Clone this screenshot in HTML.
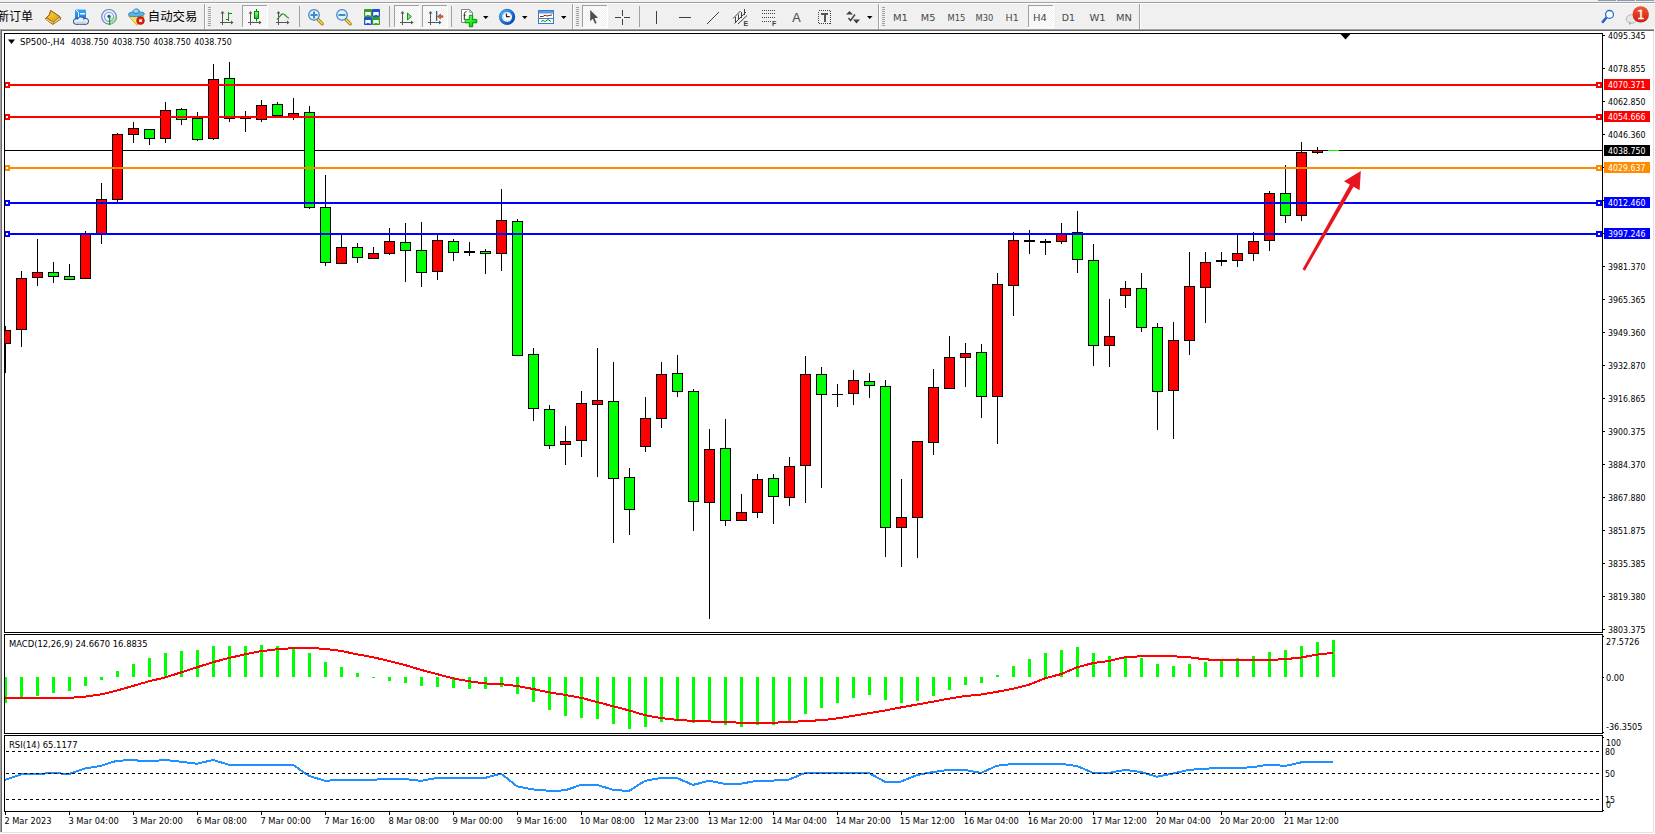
<!DOCTYPE html>
<html><head><meta charset="utf-8"><title>MT4 SP500 H4</title>
<style>
html,body{margin:0;padding:0;background:#f0f0f0;}
body{width:1655px;height:834px;overflow:hidden;position:relative;}
svg{display:block;position:absolute;left:0;top:0;}
</style></head><body>
<svg width="1655" height="834" viewBox="0 0 1655 834">
<g shape-rendering="crispEdges">
<rect x="0" y="0" width="1655" height="29" fill="#f0f0f0"/>
<rect x="0" y="2" width="1655" height="1" fill="#a0a0a0"/>
<rect x="0" y="3" width="1655" height="1" fill="#ffffff"/>
<rect x="0" y="28" width="1655" height="1" fill="#f5f5f5"/>
<rect x="1598" y="0" width="18" height="1" fill="#8a9bb0"/>
<rect x="1617" y="0" width="18" height="1" fill="#8a9bb0"/>
<rect x="1636" y="0" width="18" height="1" fill="#8a9bb0"/>
<rect x="204" y="4" width="1" height="25" fill="#a0a0a0"/>
<rect x="205" y="4" width="1" height="25" fill="#ffffff"/>
<rect x="572" y="4" width="1" height="25" fill="#a0a0a0"/>
<rect x="573" y="4" width="1" height="25" fill="#ffffff"/>
<rect x="878" y="4" width="1" height="25" fill="#a0a0a0"/>
<rect x="879" y="4" width="1" height="25" fill="#ffffff"/>
<rect x="1139" y="4" width="1" height="25" fill="#a0a0a0"/>
<rect x="1140" y="4" width="1" height="25" fill="#ffffff"/>
<rect x="299" y="6" width="1" height="21" fill="#a0a0a0"/>
<rect x="389" y="6" width="1" height="21" fill="#a0a0a0"/>
<rect x="451" y="6" width="1" height="21" fill="#a0a0a0"/>
<rect x="639" y="6" width="1" height="21" fill="#a0a0a0"/>
<rect x="208" y="7" width="3" height="1" fill="#a0a0a0"/>
<rect x="208" y="9" width="3" height="1" fill="#a0a0a0"/>
<rect x="208" y="11" width="3" height="1" fill="#a0a0a0"/>
<rect x="208" y="13" width="3" height="1" fill="#a0a0a0"/>
<rect x="208" y="15" width="3" height="1" fill="#a0a0a0"/>
<rect x="208" y="17" width="3" height="1" fill="#a0a0a0"/>
<rect x="208" y="19" width="3" height="1" fill="#a0a0a0"/>
<rect x="208" y="21" width="3" height="1" fill="#a0a0a0"/>
<rect x="208" y="23" width="3" height="1" fill="#a0a0a0"/>
<rect x="208" y="25" width="3" height="1" fill="#a0a0a0"/>
<rect x="576" y="7" width="3" height="1" fill="#a0a0a0"/>
<rect x="576" y="9" width="3" height="1" fill="#a0a0a0"/>
<rect x="576" y="11" width="3" height="1" fill="#a0a0a0"/>
<rect x="576" y="13" width="3" height="1" fill="#a0a0a0"/>
<rect x="576" y="15" width="3" height="1" fill="#a0a0a0"/>
<rect x="576" y="17" width="3" height="1" fill="#a0a0a0"/>
<rect x="576" y="19" width="3" height="1" fill="#a0a0a0"/>
<rect x="576" y="21" width="3" height="1" fill="#a0a0a0"/>
<rect x="576" y="23" width="3" height="1" fill="#a0a0a0"/>
<rect x="576" y="25" width="3" height="1" fill="#a0a0a0"/>
<rect x="882" y="7" width="3" height="1" fill="#a0a0a0"/>
<rect x="882" y="9" width="3" height="1" fill="#a0a0a0"/>
<rect x="882" y="11" width="3" height="1" fill="#a0a0a0"/>
<rect x="882" y="13" width="3" height="1" fill="#a0a0a0"/>
<rect x="882" y="15" width="3" height="1" fill="#a0a0a0"/>
<rect x="882" y="17" width="3" height="1" fill="#a0a0a0"/>
<rect x="882" y="19" width="3" height="1" fill="#a0a0a0"/>
<rect x="882" y="21" width="3" height="1" fill="#a0a0a0"/>
<rect x="882" y="23" width="3" height="1" fill="#a0a0a0"/>
<rect x="882" y="25" width="3" height="1" fill="#a0a0a0"/>
<defs><pattern id="chk" x="0" y="0" width="2" height="2" patternUnits="userSpaceOnUse"><rect x="0" y="0" width="2" height="2" fill="#ffffff"/><rect x="1" y="0" width="1" height="1" fill="#f0f0f0"/><rect x="0" y="1" width="1" height="1" fill="#f0f0f0"/></pattern></defs>
<rect x="242" y="5" width="26" height="23" fill="#ffffff"/>
<rect x="242" y="5" width="25" height="22" fill="url(#chk)"/>
<rect x="242" y="5" width="25" height="1" fill="#a0a0a0"/>
<rect x="242" y="5" width="1" height="22" fill="#a0a0a0"/>
<rect x="394" y="5" width="26" height="23" fill="#ffffff"/>
<rect x="394" y="5" width="25" height="22" fill="url(#chk)"/>
<rect x="394" y="5" width="25" height="1" fill="#a0a0a0"/>
<rect x="394" y="5" width="1" height="22" fill="#a0a0a0"/>
<rect x="422" y="5" width="26" height="23" fill="#ffffff"/>
<rect x="422" y="5" width="25" height="22" fill="url(#chk)"/>
<rect x="422" y="5" width="25" height="1" fill="#a0a0a0"/>
<rect x="422" y="5" width="1" height="22" fill="#a0a0a0"/>
<rect x="582" y="5" width="26" height="23" fill="#ffffff"/>
<rect x="582" y="5" width="25" height="22" fill="url(#chk)"/>
<rect x="582" y="5" width="25" height="1" fill="#a0a0a0"/>
<rect x="582" y="5" width="1" height="22" fill="#a0a0a0"/>
<rect x="1028" y="5" width="26" height="23" fill="#ffffff"/>
<rect x="1028" y="5" width="25" height="22" fill="url(#chk)"/>
<rect x="1028" y="5" width="25" height="1" fill="#a0a0a0"/>
<rect x="1028" y="5" width="1" height="22" fill="#a0a0a0"/>
</g>
<text x="-3" y="21" font-family="'Liberation Sans', 'Noto Sans CJK SC', sans-serif" font-size="12" fill="#000">新订单</text>
<text x="147.8" y="21" font-family="'Liberation Sans', 'Noto Sans CJK SC', sans-serif" font-size="12.4" fill="#000">自动交易</text>
<defs><linearGradient id="gy" x1="0" y1="0" x2="1" y2="1"><stop offset="0" stop-color="#f8d840"/><stop offset="1" stop-color="#d8a010"/></linearGradient><linearGradient id="gb" x1="0" y1="0" x2="0" y2="1"><stop offset="0" stop-color="#3aa8ff"/><stop offset="1" stop-color="#0878e0"/></linearGradient><linearGradient id="gc" x1="0" y1="0" x2="0" y2="1"><stop offset="0" stop-color="#ffffff"/><stop offset="1" stop-color="#b8c8e0"/></linearGradient><linearGradient id="gr" x1="0" y1="0" x2="0" y2="1"><stop offset="0" stop-color="#ec5a36"/><stop offset="1" stop-color="#d21c0c"/></linearGradient><linearGradient id="gg" x1="0" y1="0" x2="0" y2="1"><stop offset="0" stop-color="#90ff90"/><stop offset="1" stop-color="#10c010"/></linearGradient></defs>
<polygon points="50.6,10.4 59.8,16.5 60.7,19.1 52.8,24.4 45.2,18.8 49.3,14.8" fill="#b07418" stroke="#9a5e10" stroke-width="1" stroke-linejoin="round"/>
<polygon points="51.2,11.6 58.9,16.7 53.3,21.4 47.2,17.6 50,15" fill="url(#gy)"/>
<polygon points="46.3,18.6 53.2,22.6 53,23.7 45.9,19.4" fill="#f4dc90"/>
<polygon points="59.4,17.6 60,18.9 53.9,23.2 53.8,22.2" fill="#e6dcb0"/>
<rect x="75" y="9.5" width="11" height="11" rx="1" fill="url(#gb)"/>
<polyline points="76,10 78.5,12.5 78.5,20" fill="none" stroke="#ffffff" stroke-width="1"/>
<rect x="80" y="13" width="5" height="1.5" fill="#ffffff"/>
<circle cx="76.3" cy="21.5" r="3.3" fill="#3c5a9a"/>
<circle cx="80.8" cy="20.3" r="3.9" fill="#3c5a9a"/>
<circle cx="85.6" cy="21.3" r="3.4" fill="#3c5a9a"/>
<rect x="76" y="21" width="9.8" height="3.8" fill="#3c5a9a"/>
<circle cx="76.3" cy="21.5" r="2.3" fill="#eef2f8"/>
<circle cx="80.8" cy="20.3" r="2.9" fill="#eef2f8"/>
<circle cx="85.6" cy="21.3" r="2.4" fill="#eef2f8"/>
<rect x="76.3" y="21.5" width="9.5" height="2.4" fill="#d0dcec"/>
<rect x="75.5" y="22.3" width="11" height="1.6" fill="#c0cde0"/>
<g fill="none" stroke-width="1.1">
<circle cx="109" cy="16.8" r="7.3" stroke="#4a78d4" opacity="0.9"/>
<circle cx="109" cy="16.8" r="4.6" stroke="#5a86d8" opacity="0.75"/>
<path d="M109,24.1 A7.3,7.3 0 0 0 116.3,16.8" stroke="#50a850"/>
<path d="M109,21.4 A4.6,4.6 0 0 0 113.6,16.8" stroke="#60b060"/>
</g>
<path d="M109,16.8 L109,24.5 A7.7,7.7 0 0 0 116.5,17.5 Z" fill="#a8d8a8" opacity="0.55"/>
<circle cx="109" cy="16.3" r="1.6" fill="#2050d0"/>
<rect x="109" y="17" width="1.2" height="8" fill="#10a010"/>
<path d="M128.8,16.3 L144,16.3 L137,25.3 Z" fill="#f8e060" stroke="#d0a020" stroke-width="0.8" stroke-linejoin="round"/>
<path d="M128.6,15.2 C128,12.5 131,12.3 132.5,12.3 C133,9.8 135,8.8 136.5,8.9 C138.5,9 139.6,10.5 139.8,12.3 C141.5,12 144.5,12.2 144.3,14 C144,15.8 140,16.5 136.5,16.6 C132.5,16.7 129,16.5 128.6,15.2 Z" fill="#5cb4e4" stroke="#2a84b4" stroke-width="0.9"/>
<path d="M132.8,12.6 C134,13.8 138.5,13.8 139.6,12.6" fill="none" stroke="#2a84b4" stroke-width="0.7"/>
<ellipse cx="136" cy="11" rx="2" ry="1.2" fill="#a8dcf8"/>
<circle cx="140.5" cy="20.6" r="3.9" fill="#e02010" stroke="#b01000" stroke-width="0.6"/>
<rect x="139.2" y="19.3" width="2.7" height="2.6" fill="#ffffff"/>
<g shape-rendering="crispEdges" fill="#555555">
<rect x="222" y="12" width="1" height="13" fill="#555555"/>
<rect x="220" y="22" width="13" height="1" fill="#555555"/>
</g>
<polygon points="220.5,13.5 222.5,11 224.5,13.5" fill="#555555"/>
<polygon points="231,20.5 233.5,22.5 231,24.5" fill="#555555"/>
<g shape-rendering="crispEdges" fill="#109010">
<rect x="228" y="12" width="1" height="9" fill="#109010"/>
<rect x="229" y="13" width="3" height="1" fill="#109010"/>
<rect x="226" y="19" width="2" height="1" fill="#109010"/>
</g>
<g shape-rendering="crispEdges" fill="#555555">
<rect x="250" y="12" width="1" height="13" fill="#555555"/>
<rect x="248" y="22" width="13" height="1" fill="#555555"/>
</g>
<polygon points="248.5,13.5 250.5,11 252.5,13.5" fill="#555555"/>
<polygon points="259,20.5 261.5,22.5 259,24.5" fill="#555555"/>
<rect x="256" y="9" width="1" height="12.5" fill="#008800"/>
<rect x="254.5" y="11.5" width="4" height="7" fill="url(#gg)" stroke="#008800" stroke-width="1"/>
<g shape-rendering="crispEdges" fill="#555555">
<rect x="278" y="12" width="1" height="13" fill="#555555"/>
<rect x="276" y="22" width="13" height="1" fill="#555555"/>
</g>
<polygon points="276.5,13.5 278.5,11 280.5,13.5" fill="#555555"/>
<polygon points="287,20.5 289.5,22.5 287,24.5" fill="#555555"/>
<path d="M277,19.5 C279.5,17 281.5,13.5 283.3,14 C285,14.4 286.5,17 289,18.2" fill="none" stroke="#209020" stroke-width="1.2"/>
<line x1="318" y1="19.5" x2="322.3" y2="23.8" stroke="#b07a10" stroke-width="3.2" stroke-linecap="round"/>
<line x1="318" y1="19.5" x2="322.3" y2="23.8" stroke="#f0d850" stroke-width="1.6" stroke-linecap="round"/>
<circle cx="314" cy="14.9" r="5.3" fill="#dcf2ff" stroke="#3a82d0" stroke-width="1.2"/>
<rect x="310.5" y="14" width="7" height="2" fill="#4a88b8"/>
<rect x="313" y="11.5" width="2" height="7" fill="#4a88b8"/>
<line x1="346" y1="19.5" x2="350.3" y2="23.8" stroke="#b07a10" stroke-width="3.2" stroke-linecap="round"/>
<line x1="346" y1="19.5" x2="350.3" y2="23.8" stroke="#f0d850" stroke-width="1.6" stroke-linecap="round"/>
<circle cx="342" cy="14.9" r="5.3" fill="#dcf2ff" stroke="#3a82d0" stroke-width="1.2"/>
<rect x="338.5" y="14" width="7" height="2" fill="#4a88b8"/>
<rect x="364" y="9" width="8" height="8" rx="0.8" fill="#30a020"/>
<rect x="365.5" y="12" width="5" height="3" fill="#ffffff"/>
<rect x="365.5" y="12" width="1" height="4" fill="#ffffff"/>
<rect x="369.5" y="12" width="1" height="4" fill="#ffffff"/>
<rect x="372" y="9" width="8" height="8" rx="0.8" fill="#2050d0"/>
<rect x="373.5" y="12" width="5" height="3" fill="#ffffff"/>
<rect x="373.5" y="12" width="1" height="4" fill="#ffffff"/>
<rect x="377.5" y="12" width="1" height="4" fill="#ffffff"/>
<rect x="364" y="17" width="8" height="8" rx="0.8" fill="#2050d0"/>
<rect x="365.5" y="20" width="5" height="3" fill="#ffffff"/>
<rect x="365.5" y="20" width="1" height="4" fill="#ffffff"/>
<rect x="369.5" y="20" width="1" height="4" fill="#ffffff"/>
<rect x="372" y="17" width="8" height="8" rx="0.8" fill="#30a020"/>
<rect x="373.5" y="20" width="5" height="3" fill="#ffffff"/>
<rect x="373.5" y="20" width="1" height="4" fill="#ffffff"/>
<rect x="377.5" y="20" width="1" height="4" fill="#ffffff"/>
<g shape-rendering="crispEdges" fill="#555555">
<rect x="402" y="12" width="1" height="13" fill="#555555"/>
<rect x="400" y="22" width="13" height="1" fill="#555555"/>
</g>
<polygon points="400.5,13.5 402.5,11 404.5,13.5" fill="#555555"/>
<polygon points="411,20.5 413.5,22.5 411,24.5" fill="#555555"/>
<polygon points="407.5,13 411.3,16.5 407.5,20" fill="#70f070" stroke="#109010" stroke-width="1" stroke-linejoin="round"/>
<g shape-rendering="crispEdges" fill="#555555">
<rect x="430" y="12" width="1" height="13" fill="#555555"/>
<rect x="428" y="22" width="13" height="1" fill="#555555"/>
</g>
<polygon points="428.5,13.5 430.5,11 432.5,13.5" fill="#555555"/>
<polygon points="439,20.5 441.5,22.5 439,24.5" fill="#555555"/>
<rect x="436" y="11" width="1.3" height="9.8" fill="#1a6aa0"/>
<polygon points="437.5,16.5 440.5,14 440.5,15.7 443,15.7 443,17.3 440.5,17.3 440.5,19" fill="#f06010" stroke="#902000" stroke-width="0.5"/>
<path d="M461.5,9.5 L469.5,9.5 L472.5,12.5 L472.5,22.5 L461.5,22.5 Z" fill="#ffffff" stroke="#808080" stroke-width="1"/>
<path d="M464.3,19.8 L464.4,13.6 C464.5,12.2 465.4,11.6 466.6,11.6" fill="none" stroke="#302818" stroke-width="1"/>
<line x1="463.3" y1="15.3" x2="466" y2="15.3" stroke="#302818" stroke-width="0.8" opacity="0.7"/>
<polygon points="469.6,9.6 472.4,12.4 469.6,12.4" fill="#d0d0d0" stroke="#808080" stroke-width="0.6"/>
<defs><linearGradient id="gpl" x1="0" y1="0" x2="1" y2="1"><stop offset="0" stop-color="#90ff90"/><stop offset="0.6" stop-color="#10f010"/><stop offset="1" stop-color="#00c800"/></linearGradient></defs>
<path d="M469.3,15.3 h3.4 v4.1 h4.1 v3.4 h-4.1 v4 h-3.4 v-4 h-4.1 v-3.4 h4.1 z" fill="url(#gpl)" stroke="#008400" stroke-width="0.9"/>
<polygon points="483,16 488.5,16 485.75,19" fill="#000"/>
<polygon points="522,16 527.5,16 524.75,19" fill="#000"/>
<polygon points="561,16 566.5,16 563.75,19" fill="#000"/>
<polygon points="867,16 872.5,16 869.75,19" fill="#000"/>
<defs><linearGradient id="gclk" x1="0" y1="0" x2="1" y2="1"><stop offset="0" stop-color="#58b8ff"/><stop offset="0.5" stop-color="#1a78e0"/><stop offset="1" stop-color="#0648a8"/></linearGradient></defs>
<circle cx="507.1" cy="16.9" r="6.45" fill="#fbfdff" stroke="url(#gclk)" stroke-width="3"/>
<circle cx="507.1" cy="16.9" r="4" fill="none" stroke="#a0a8b0" stroke-width="0.9" stroke-dasharray="0.7,1.4"/>
<circle cx="507.1" cy="16.9" r="7.7" fill="none" stroke="#0a4498" stroke-width="0.6" opacity="0.8"/>
<path d="M506.3,13.6 L506.6,16.6 L509.7,16.6" fill="none" stroke="#202020" stroke-width="1.2"/>
<rect x="538.5" y="10.5" width="15" height="13" fill="#ffffff" stroke="#3a7ac8" stroke-width="1"/>
<rect x="539" y="11" width="14" height="2.5" fill="#5a9ae0"/>
<rect x="539" y="18" width="14" height="1" fill="#3a7ac8"/>
<polyline points="540,16.5 543,16.5 545,15.2 547,16 549,15.5 552,15" fill="none" stroke="#a02000" stroke-width="1"/>
<polyline points="541,21.5 543,20.5 545,21.5 548,19.5 551,21.5" fill="none" stroke="#109010" stroke-width="1"/>
<polygon points="590.2,10 590.2,21.3 592.8,18.8 595,23.8 596.6,23 594.5,18.2 598,17.8" fill="#505050"/>
<g shape-rendering="crispEdges" fill="#404040">
<rect x="622" y="10" width="1" height="6" fill="#404040"/>
<rect x="622" y="19" width="1" height="6" fill="#404040"/>
<rect x="615" y="17" width="6" height="1" fill="#404040"/>
<rect x="624" y="17" width="6" height="1" fill="#404040"/>
<rect x="656" y="11" width="1" height="13" fill="#404040"/>
<rect x="679" y="17" width="12" height="1" fill="#404040"/>
</g>
<line x1="707" y1="24" x2="719" y2="12" stroke="#404040" stroke-width="1"/>
<g stroke="#404040" stroke-width="1" fill="none">
<line x1="733" y1="18.5" x2="740.5" y2="11"/>
<line x1="734.5" y1="23.5" x2="746" y2="12"/>
<line x1="738" y1="24" x2="747" y2="15.5"/>
<line x1="735.5" y1="17" x2="735.5" y2="23"/>
<line x1="738.5" y1="14.5" x2="738.5" y2="20"/>
<line x1="741.5" y1="12" x2="741.5" y2="18"/>
<line x1="744.5" y1="9" x2="744.5" y2="15"/>
</g>
<text x="743.6" y="26" font-family="'Liberation Sans', 'DejaVu Sans', sans-serif" font-weight="bold" font-size="7" fill="#404040">E</text>
<g shape-rendering="crispEdges" fill="#404040">
<rect x="762" y="10" width="1" height="1" fill="#404040"/>
<rect x="764" y="10" width="1" height="1" fill="#404040"/>
<rect x="766" y="10" width="1" height="1" fill="#404040"/>
<rect x="768" y="10" width="1" height="1" fill="#404040"/>
<rect x="770" y="10" width="1" height="1" fill="#404040"/>
<rect x="772" y="10" width="1" height="1" fill="#404040"/>
<rect x="774" y="10" width="1" height="1" fill="#404040"/>
<rect x="762" y="13" width="1" height="1" fill="#404040"/>
<rect x="764" y="13" width="1" height="1" fill="#404040"/>
<rect x="766" y="13" width="1" height="1" fill="#404040"/>
<rect x="768" y="13" width="1" height="1" fill="#404040"/>
<rect x="770" y="13" width="1" height="1" fill="#404040"/>
<rect x="772" y="13" width="1" height="1" fill="#404040"/>
<rect x="774" y="13" width="1" height="1" fill="#404040"/>
<rect x="762" y="17" width="1" height="1" fill="#404040"/>
<rect x="764" y="17" width="1" height="1" fill="#404040"/>
<rect x="766" y="17" width="1" height="1" fill="#404040"/>
<rect x="768" y="17" width="1" height="1" fill="#404040"/>
<rect x="770" y="17" width="1" height="1" fill="#404040"/>
<rect x="772" y="17" width="1" height="1" fill="#404040"/>
<rect x="774" y="17" width="1" height="1" fill="#404040"/>
<rect x="762" y="21" width="1" height="1" fill="#404040"/>
<rect x="764" y="21" width="1" height="1" fill="#404040"/>
<rect x="766" y="21" width="1" height="1" fill="#404040"/>
<rect x="768" y="21" width="1" height="1" fill="#404040"/>
<rect x="770" y="21" width="1" height="1" fill="#404040"/>
</g>
<text x="772" y="26" font-family="'Liberation Sans', 'DejaVu Sans', sans-serif" font-weight="bold" font-size="7" fill="#404040">F</text>
<text x="792.3" y="22.2" font-family="'Liberation Sans', 'DejaVu Sans', sans-serif" font-size="12.6" fill="#505050" stroke="#505050" stroke-width="0.15">A</text>
<rect x="818.5" y="10.5" width="12" height="13" fill="none" stroke="#404040" stroke-width="1" stroke-dasharray="1,1" shape-rendering="crispEdges"/>
<g shape-rendering="crispEdges">
<rect x="821" y="13" width="7" height="2" fill="#555555"/>
<rect x="823.5" y="13" width="2" height="9" fill="#555555"/>
</g>
<polygon points="846,14.5 849.5,11 853,14.5" fill="#404040"/>
<polygon points="853,19.5 856.5,23.5 860,19.5" fill="#404040"/>
<polyline points="848.5,18 850.5,20.5 855,14.5" fill="none" stroke="#404040" stroke-width="1.4"/>
<g font-family="'DejaVu Sans', 'Liberation Sans', sans-serif" font-size="9.3" fill="#484848">
<text x="892.9" y="21" textLength="15.0" lengthAdjust="spacingAndGlyphs">M1</text>
<text x="920.8" y="21" textLength="14.6" lengthAdjust="spacingAndGlyphs">M5</text>
<text x="947.6" y="21" textLength="17.8" lengthAdjust="spacingAndGlyphs">M15</text>
<text x="975.5" y="21" textLength="17.8" lengthAdjust="spacingAndGlyphs">M30</text>
<text x="1005.6" y="21" textLength="13.2" lengthAdjust="spacingAndGlyphs">H1</text>
<text x="1033" y="21" textLength="13.8" lengthAdjust="spacingAndGlyphs">H4</text>
<text x="1061.8" y="21" textLength="13.2" lengthAdjust="spacingAndGlyphs">D1</text>
<text x="1089.4" y="21" textLength="16.3" lengthAdjust="spacingAndGlyphs">W1</text>
<text x="1116" y="21" textLength="15.9" lengthAdjust="spacingAndGlyphs">MN</text>
</g>
<line x1="1606.5" y1="17.5" x2="1602.8" y2="21.8" stroke="#2a60c8" stroke-width="2.6" stroke-linecap="round"/>
<circle cx="1609.5" cy="14.4" r="3.9" fill="#ffffff" stroke="#2a66d8" stroke-width="1.3"/>
<ellipse cx="1631.5" cy="19" rx="5.3" ry="4.3" fill="#e4e6ee" stroke="#a8a8a8" stroke-width="0.8"/>
<polygon points="1629,22.5 1631.5,22.8 1629.3,25.3" fill="#a0a0a0"/>
<circle cx="1640.7" cy="14.4" r="8.2" fill="url(#gr)"/>
<text x="1640.8" y="19" text-anchor="middle" font-family="DejaVu Sans, sans-serif" font-size="12" fill="#ffffff" stroke="#ffffff" stroke-width="0.35">1</text>
<g shape-rendering="crispEdges">
<rect x="2" y="31" width="1651" height="801" fill="#ffffff"/>
<rect x="0" y="29" width="1654" height="1" fill="#a0a0a0"/>
<rect x="0" y="30" width="1654" height="1" fill="#696969"/>
<rect x="0" y="29" width="1" height="803" fill="#a0a0a0"/>
<rect x="1" y="30" width="1" height="802" fill="#696969"/>
<rect x="1653" y="31" width="1" height="802" fill="#e3e3e3"/>
<rect x="2" y="832" width="1652" height="1" fill="#e3e3e3"/>
<rect x="0" y="833" width="1655" height="1" fill="#ffffff"/>
<rect x="1654" y="29" width="1" height="805" fill="#ffffff"/>
<rect x="4" y="33" width="1599" height="1" fill="#000"/>
<rect x="4" y="632" width="1599" height="1" fill="#000"/>
<rect x="4" y="33" width="1" height="600" fill="#000"/>
<rect x="1602" y="33" width="1" height="600" fill="#000"/>
<rect x="4" y="634" width="1599" height="1" fill="#000"/>
<rect x="4" y="733" width="1599" height="1" fill="#000"/>
<rect x="4" y="634" width="1" height="100" fill="#000"/>
<rect x="1602" y="634" width="1" height="100" fill="#000"/>
<rect x="4" y="735" width="1599" height="1" fill="#000"/>
<rect x="4" y="811" width="1599" height="1" fill="#000"/>
<rect x="4" y="735" width="1" height="77" fill="#000"/>
<rect x="1602" y="735" width="1" height="77" fill="#000"/>
</g>
<clipPath id="cm"><rect x="5" y="34" width="1597" height="598"/></clipPath>
<g clip-path="url(#cm)" shape-rendering="crispEdges">
<rect x="5" y="150" width="1597" height="1" fill="#000"/>
<rect x="5" y="326" width="1" height="47" fill="#000"/>
<rect x="0" y="330" width="11" height="14" fill="#000"/>
<rect x="1" y="331" width="9" height="12" fill="#ff0000"/>
<rect x="21" y="271" width="1" height="76" fill="#000"/>
<rect x="16" y="278" width="11" height="52" fill="#000"/>
<rect x="17" y="279" width="9" height="50" fill="#ff0000"/>
<rect x="37" y="239" width="1" height="47" fill="#000"/>
<rect x="32" y="272" width="11" height="6" fill="#000"/>
<rect x="33" y="273" width="9" height="4" fill="#ff0000"/>
<rect x="53" y="262" width="1" height="21" fill="#000"/>
<rect x="48" y="272" width="11" height="5" fill="#000"/>
<rect x="49" y="273" width="9" height="3" fill="#00ff00"/>
<rect x="69" y="264" width="1" height="16" fill="#000"/>
<rect x="64" y="276" width="11" height="4" fill="#000"/>
<rect x="65" y="277" width="9" height="2" fill="#00ff00"/>
<rect x="85" y="231" width="1" height="48" fill="#000"/>
<rect x="80" y="233" width="11" height="46" fill="#000"/>
<rect x="81" y="234" width="9" height="44" fill="#ff0000"/>
<rect x="101" y="183" width="1" height="61" fill="#000"/>
<rect x="96" y="199" width="11" height="35" fill="#000"/>
<rect x="97" y="200" width="9" height="33" fill="#ff0000"/>
<rect x="117" y="133" width="1" height="70" fill="#000"/>
<rect x="112" y="134" width="11" height="66" fill="#000"/>
<rect x="113" y="135" width="9" height="64" fill="#ff0000"/>
<rect x="133" y="122" width="1" height="21" fill="#000"/>
<rect x="128" y="128" width="11" height="7" fill="#000"/>
<rect x="129" y="129" width="9" height="5" fill="#ff0000"/>
<rect x="149" y="129" width="1" height="16" fill="#000"/>
<rect x="144" y="129" width="11" height="10" fill="#000"/>
<rect x="145" y="130" width="9" height="8" fill="#00ff00"/>
<rect x="165" y="102" width="1" height="41" fill="#000"/>
<rect x="160" y="110" width="11" height="29" fill="#000"/>
<rect x="161" y="111" width="9" height="27" fill="#ff0000"/>
<rect x="181" y="108" width="1" height="17" fill="#000"/>
<rect x="176" y="109" width="11" height="11" fill="#000"/>
<rect x="177" y="110" width="9" height="9" fill="#00ff00"/>
<rect x="197" y="112" width="1" height="29" fill="#000"/>
<rect x="192" y="118" width="11" height="22" fill="#000"/>
<rect x="193" y="119" width="9" height="20" fill="#00ff00"/>
<rect x="213" y="64" width="1" height="76" fill="#000"/>
<rect x="208" y="79" width="11" height="60" fill="#000"/>
<rect x="209" y="80" width="9" height="58" fill="#ff0000"/>
<rect x="229" y="62" width="1" height="60" fill="#000"/>
<rect x="224" y="78" width="11" height="41" fill="#000"/>
<rect x="225" y="79" width="9" height="39" fill="#00ff00"/>
<rect x="245" y="111" width="1" height="21" fill="#000"/>
<rect x="240" y="118" width="11" height="1" fill="#000"/>
<rect x="261" y="100" width="1" height="22" fill="#000"/>
<rect x="256" y="105" width="11" height="15" fill="#000"/>
<rect x="257" y="106" width="9" height="13" fill="#ff0000"/>
<rect x="277" y="102" width="1" height="15" fill="#000"/>
<rect x="272" y="104" width="11" height="12" fill="#000"/>
<rect x="273" y="105" width="9" height="10" fill="#00ff00"/>
<rect x="293" y="98" width="1" height="22" fill="#000"/>
<rect x="288" y="113" width="11" height="4" fill="#000"/>
<rect x="289" y="114" width="9" height="2" fill="#ff0000"/>
<rect x="309" y="106" width="1" height="103" fill="#000"/>
<rect x="304" y="112" width="11" height="96" fill="#000"/>
<rect x="305" y="113" width="9" height="94" fill="#00ff00"/>
<rect x="325" y="175" width="1" height="91" fill="#000"/>
<rect x="320" y="207" width="11" height="56" fill="#000"/>
<rect x="321" y="208" width="9" height="54" fill="#00ff00"/>
<rect x="341" y="234" width="1" height="30" fill="#000"/>
<rect x="336" y="247" width="11" height="17" fill="#000"/>
<rect x="337" y="248" width="9" height="15" fill="#ff0000"/>
<rect x="357" y="243" width="1" height="20" fill="#000"/>
<rect x="352" y="247" width="11" height="11" fill="#000"/>
<rect x="353" y="248" width="9" height="9" fill="#00ff00"/>
<rect x="373" y="247" width="1" height="12" fill="#000"/>
<rect x="368" y="253" width="11" height="6" fill="#000"/>
<rect x="369" y="254" width="9" height="4" fill="#ff0000"/>
<rect x="389" y="228" width="1" height="27" fill="#000"/>
<rect x="384" y="241" width="11" height="13" fill="#000"/>
<rect x="385" y="242" width="9" height="11" fill="#ff0000"/>
<rect x="405" y="223" width="1" height="59" fill="#000"/>
<rect x="400" y="242" width="11" height="9" fill="#000"/>
<rect x="401" y="243" width="9" height="7" fill="#00ff00"/>
<rect x="421" y="222" width="1" height="65" fill="#000"/>
<rect x="416" y="250" width="11" height="23" fill="#000"/>
<rect x="417" y="251" width="9" height="21" fill="#00ff00"/>
<rect x="437" y="233" width="1" height="47" fill="#000"/>
<rect x="432" y="240" width="11" height="32" fill="#000"/>
<rect x="433" y="241" width="9" height="30" fill="#ff0000"/>
<rect x="453" y="239" width="1" height="22" fill="#000"/>
<rect x="448" y="241" width="11" height="12" fill="#000"/>
<rect x="449" y="242" width="9" height="10" fill="#00ff00"/>
<rect x="469" y="242" width="1" height="14" fill="#000"/>
<rect x="464" y="251" width="11" height="2" fill="#000"/>
<rect x="485" y="249" width="1" height="25" fill="#000"/>
<rect x="480" y="251" width="11" height="3" fill="#000"/>
<rect x="481" y="252" width="9" height="1" fill="#00ff00"/>
<rect x="501" y="189" width="1" height="82" fill="#000"/>
<rect x="496" y="220" width="11" height="34" fill="#000"/>
<rect x="497" y="221" width="9" height="32" fill="#ff0000"/>
<rect x="517" y="219" width="1" height="137" fill="#000"/>
<rect x="512" y="221" width="11" height="135" fill="#000"/>
<rect x="513" y="222" width="9" height="133" fill="#00ff00"/>
<rect x="533" y="348" width="1" height="73" fill="#000"/>
<rect x="528" y="354" width="11" height="55" fill="#000"/>
<rect x="529" y="355" width="9" height="53" fill="#00ff00"/>
<rect x="549" y="405" width="1" height="44" fill="#000"/>
<rect x="544" y="409" width="11" height="37" fill="#000"/>
<rect x="545" y="410" width="9" height="35" fill="#00ff00"/>
<rect x="565" y="426" width="1" height="39" fill="#000"/>
<rect x="560" y="441" width="11" height="4" fill="#000"/>
<rect x="561" y="442" width="9" height="2" fill="#ff0000"/>
<rect x="581" y="391" width="1" height="66" fill="#000"/>
<rect x="576" y="403" width="11" height="38" fill="#000"/>
<rect x="577" y="404" width="9" height="36" fill="#ff0000"/>
<rect x="597" y="348" width="1" height="129" fill="#000"/>
<rect x="592" y="400" width="11" height="5" fill="#000"/>
<rect x="593" y="401" width="9" height="3" fill="#ff0000"/>
<rect x="613" y="362" width="1" height="181" fill="#000"/>
<rect x="608" y="401" width="11" height="78" fill="#000"/>
<rect x="609" y="402" width="9" height="76" fill="#00ff00"/>
<rect x="629" y="468" width="1" height="67" fill="#000"/>
<rect x="624" y="477" width="11" height="33" fill="#000"/>
<rect x="625" y="478" width="9" height="31" fill="#00ff00"/>
<rect x="645" y="397" width="1" height="55" fill="#000"/>
<rect x="640" y="418" width="11" height="29" fill="#000"/>
<rect x="641" y="419" width="9" height="27" fill="#ff0000"/>
<rect x="661" y="362" width="1" height="66" fill="#000"/>
<rect x="656" y="374" width="11" height="45" fill="#000"/>
<rect x="657" y="375" width="9" height="43" fill="#ff0000"/>
<rect x="677" y="355" width="1" height="42" fill="#000"/>
<rect x="672" y="373" width="11" height="19" fill="#000"/>
<rect x="673" y="374" width="9" height="17" fill="#00ff00"/>
<rect x="693" y="389" width="1" height="142" fill="#000"/>
<rect x="688" y="391" width="11" height="111" fill="#000"/>
<rect x="689" y="392" width="9" height="109" fill="#00ff00"/>
<rect x="709" y="429" width="1" height="190" fill="#000"/>
<rect x="704" y="449" width="11" height="54" fill="#000"/>
<rect x="705" y="450" width="9" height="52" fill="#ff0000"/>
<rect x="725" y="419" width="1" height="107" fill="#000"/>
<rect x="720" y="448" width="11" height="73" fill="#000"/>
<rect x="721" y="449" width="9" height="71" fill="#00ff00"/>
<rect x="741" y="494" width="1" height="27" fill="#000"/>
<rect x="736" y="512" width="11" height="9" fill="#000"/>
<rect x="737" y="513" width="9" height="7" fill="#ff0000"/>
<rect x="757" y="474" width="1" height="44" fill="#000"/>
<rect x="752" y="479" width="11" height="34" fill="#000"/>
<rect x="753" y="480" width="9" height="32" fill="#ff0000"/>
<rect x="773" y="474" width="1" height="50" fill="#000"/>
<rect x="768" y="478" width="11" height="19" fill="#000"/>
<rect x="769" y="479" width="9" height="17" fill="#00ff00"/>
<rect x="789" y="457" width="1" height="49" fill="#000"/>
<rect x="784" y="466" width="11" height="32" fill="#000"/>
<rect x="785" y="467" width="9" height="30" fill="#ff0000"/>
<rect x="805" y="356" width="1" height="147" fill="#000"/>
<rect x="800" y="374" width="11" height="92" fill="#000"/>
<rect x="801" y="375" width="9" height="90" fill="#ff0000"/>
<rect x="821" y="367" width="1" height="121" fill="#000"/>
<rect x="816" y="374" width="11" height="21" fill="#000"/>
<rect x="817" y="375" width="9" height="19" fill="#00ff00"/>
<rect x="837" y="384" width="1" height="23" fill="#000"/>
<rect x="832" y="394" width="11" height="1" fill="#000"/>
<rect x="853" y="370" width="1" height="35" fill="#000"/>
<rect x="848" y="380" width="11" height="14" fill="#000"/>
<rect x="849" y="381" width="9" height="12" fill="#ff0000"/>
<rect x="869" y="373" width="1" height="25" fill="#000"/>
<rect x="864" y="381" width="11" height="5" fill="#000"/>
<rect x="865" y="382" width="9" height="3" fill="#00ff00"/>
<rect x="885" y="380" width="1" height="177" fill="#000"/>
<rect x="880" y="386" width="11" height="142" fill="#000"/>
<rect x="881" y="387" width="9" height="140" fill="#00ff00"/>
<rect x="901" y="479" width="1" height="88" fill="#000"/>
<rect x="896" y="517" width="11" height="11" fill="#000"/>
<rect x="897" y="518" width="9" height="9" fill="#ff0000"/>
<rect x="917" y="441" width="1" height="117" fill="#000"/>
<rect x="912" y="441" width="11" height="77" fill="#000"/>
<rect x="913" y="442" width="9" height="75" fill="#ff0000"/>
<rect x="933" y="369" width="1" height="86" fill="#000"/>
<rect x="928" y="387" width="11" height="56" fill="#000"/>
<rect x="929" y="388" width="9" height="54" fill="#ff0000"/>
<rect x="949" y="336" width="1" height="53" fill="#000"/>
<rect x="944" y="357" width="11" height="32" fill="#000"/>
<rect x="945" y="358" width="9" height="30" fill="#ff0000"/>
<rect x="965" y="343" width="1" height="44" fill="#000"/>
<rect x="960" y="353" width="11" height="5" fill="#000"/>
<rect x="961" y="354" width="9" height="3" fill="#ff0000"/>
<rect x="981" y="344" width="1" height="74" fill="#000"/>
<rect x="976" y="352" width="11" height="45" fill="#000"/>
<rect x="977" y="353" width="9" height="43" fill="#00ff00"/>
<rect x="997" y="273" width="1" height="171" fill="#000"/>
<rect x="992" y="284" width="11" height="113" fill="#000"/>
<rect x="993" y="285" width="9" height="111" fill="#ff0000"/>
<rect x="1013" y="232" width="1" height="84" fill="#000"/>
<rect x="1008" y="240" width="11" height="46" fill="#000"/>
<rect x="1009" y="241" width="9" height="44" fill="#ff0000"/>
<rect x="1029" y="230" width="1" height="24" fill="#000"/>
<rect x="1024" y="240" width="11" height="2" fill="#000"/>
<rect x="1045" y="239" width="1" height="16" fill="#000"/>
<rect x="1040" y="241" width="11" height="2" fill="#000"/>
<rect x="1061" y="223" width="1" height="21" fill="#000"/>
<rect x="1056" y="234" width="11" height="8" fill="#000"/>
<rect x="1057" y="235" width="9" height="6" fill="#ff0000"/>
<rect x="1077" y="211" width="1" height="62" fill="#000"/>
<rect x="1072" y="232" width="11" height="28" fill="#000"/>
<rect x="1073" y="233" width="9" height="26" fill="#00ff00"/>
<rect x="1093" y="244" width="1" height="122" fill="#000"/>
<rect x="1088" y="260" width="11" height="86" fill="#000"/>
<rect x="1089" y="261" width="9" height="84" fill="#00ff00"/>
<rect x="1109" y="299" width="1" height="68" fill="#000"/>
<rect x="1104" y="336" width="11" height="10" fill="#000"/>
<rect x="1105" y="337" width="9" height="8" fill="#ff0000"/>
<rect x="1125" y="281" width="1" height="27" fill="#000"/>
<rect x="1120" y="288" width="11" height="8" fill="#000"/>
<rect x="1121" y="289" width="9" height="6" fill="#ff0000"/>
<rect x="1141" y="273" width="1" height="59" fill="#000"/>
<rect x="1136" y="288" width="11" height="40" fill="#000"/>
<rect x="1137" y="289" width="9" height="38" fill="#00ff00"/>
<rect x="1157" y="323" width="1" height="107" fill="#000"/>
<rect x="1152" y="327" width="11" height="65" fill="#000"/>
<rect x="1153" y="328" width="9" height="63" fill="#00ff00"/>
<rect x="1173" y="322" width="1" height="117" fill="#000"/>
<rect x="1168" y="340" width="11" height="51" fill="#000"/>
<rect x="1169" y="341" width="9" height="49" fill="#ff0000"/>
<rect x="1189" y="252" width="1" height="103" fill="#000"/>
<rect x="1184" y="286" width="11" height="55" fill="#000"/>
<rect x="1185" y="287" width="9" height="53" fill="#ff0000"/>
<rect x="1205" y="252" width="1" height="71" fill="#000"/>
<rect x="1200" y="262" width="11" height="26" fill="#000"/>
<rect x="1201" y="263" width="9" height="24" fill="#ff0000"/>
<rect x="1221" y="252" width="1" height="14" fill="#000"/>
<rect x="1216" y="260" width="11" height="2" fill="#000"/>
<rect x="1237" y="235" width="1" height="32" fill="#000"/>
<rect x="1232" y="253" width="11" height="8" fill="#000"/>
<rect x="1233" y="254" width="9" height="6" fill="#ff0000"/>
<rect x="1253" y="232" width="1" height="29" fill="#000"/>
<rect x="1248" y="241" width="11" height="13" fill="#000"/>
<rect x="1249" y="242" width="9" height="11" fill="#ff0000"/>
<rect x="1269" y="191" width="1" height="60" fill="#000"/>
<rect x="1264" y="193" width="11" height="48" fill="#000"/>
<rect x="1265" y="194" width="9" height="46" fill="#ff0000"/>
<rect x="1285" y="165" width="1" height="58" fill="#000"/>
<rect x="1280" y="193" width="11" height="23" fill="#000"/>
<rect x="1281" y="194" width="9" height="21" fill="#00ff00"/>
<rect x="1301" y="142" width="1" height="79" fill="#000"/>
<rect x="1296" y="152" width="11" height="64" fill="#000"/>
<rect x="1297" y="153" width="9" height="62" fill="#ff0000"/>
<rect x="1317" y="147" width="1" height="7" fill="#000"/>
<rect x="1312" y="150" width="11" height="3" fill="#000"/>
<rect x="1313" y="151" width="9" height="1" fill="#ff0000"/>
<rect x="1328" y="150" width="11" height="1" fill="#00ff00"/>
<rect x="4" y="84" width="1598" height="2" fill="#ff0000"/>
<rect x="4" y="82" width="6" height="6" fill="#ff0000"/>
<rect x="6" y="84" width="2" height="2" fill="#ffffff"/>
<rect x="1596" y="82" width="6" height="6" fill="#ff0000"/>
<rect x="1598" y="84" width="2" height="2" fill="#ffffff"/>
<rect x="4" y="116" width="1598" height="2" fill="#ff0000"/>
<rect x="4" y="114" width="6" height="6" fill="#ff0000"/>
<rect x="6" y="116" width="2" height="2" fill="#ffffff"/>
<rect x="1596" y="114" width="6" height="6" fill="#ff0000"/>
<rect x="1598" y="116" width="2" height="2" fill="#ffffff"/>
<rect x="4" y="167" width="1598" height="2" fill="#ff8c00"/>
<rect x="4" y="165" width="6" height="6" fill="#ff8c00"/>
<rect x="6" y="167" width="2" height="2" fill="#ffffff"/>
<rect x="1596" y="165" width="6" height="6" fill="#ff8c00"/>
<rect x="1598" y="167" width="2" height="2" fill="#ffffff"/>
<rect x="4" y="202" width="1598" height="2" fill="#0000ff"/>
<rect x="4" y="200" width="6" height="6" fill="#0000ff"/>
<rect x="6" y="202" width="2" height="2" fill="#ffffff"/>
<rect x="1596" y="200" width="6" height="6" fill="#0000ff"/>
<rect x="1598" y="202" width="2" height="2" fill="#ffffff"/>
<rect x="4" y="233" width="1598" height="2" fill="#0000ff"/>
<rect x="4" y="231" width="6" height="6" fill="#0000ff"/>
<rect x="6" y="233" width="2" height="2" fill="#ffffff"/>
<rect x="1596" y="231" width="6" height="6" fill="#0000ff"/>
<rect x="1598" y="233" width="2" height="2" fill="#ffffff"/>
</g>
<polygon points="1340.5,34 1350.5,34 1345.5,39.5" fill="#000"/>
<g>
<polygon points="1302.5,269.3 1304.9,270.7 1355.5,183.2 1351.9,181.1" fill="#e8141e"/>
<polygon points="1344,181.3 1360.8,171 1359.6,190.3" fill="#e8141e"/>
</g>
<clipPath id="cmacd"><rect x="5" y="635" width="1597" height="98"/></clipPath>
<g clip-path="url(#cmacd)">
<g shape-rendering="crispEdges">
<rect x="4" y="677" width="3" height="26" fill="#00ff00"/>
<rect x="20" y="677" width="3" height="20" fill="#00ff00"/>
<rect x="36" y="677" width="3" height="19" fill="#00ff00"/>
<rect x="52" y="677" width="3" height="16" fill="#00ff00"/>
<rect x="68" y="677" width="3" height="14" fill="#00ff00"/>
<rect x="84" y="677" width="3" height="9" fill="#00ff00"/>
<rect x="100" y="677" width="3" height="3" fill="#00ff00"/>
<rect x="116" y="671" width="3" height="6" fill="#00ff00"/>
<rect x="132" y="664" width="3" height="13" fill="#00ff00"/>
<rect x="148" y="658" width="3" height="19" fill="#00ff00"/>
<rect x="164" y="653" width="3" height="24" fill="#00ff00"/>
<rect x="180" y="651" width="3" height="26" fill="#00ff00"/>
<rect x="196" y="650" width="3" height="27" fill="#00ff00"/>
<rect x="212" y="646" width="3" height="31" fill="#00ff00"/>
<rect x="228" y="646" width="3" height="31" fill="#00ff00"/>
<rect x="244" y="646" width="3" height="31" fill="#00ff00"/>
<rect x="260" y="645" width="3" height="32" fill="#00ff00"/>
<rect x="276" y="646" width="3" height="31" fill="#00ff00"/>
<rect x="292" y="647" width="3" height="30" fill="#00ff00"/>
<rect x="308" y="653" width="3" height="24" fill="#00ff00"/>
<rect x="324" y="662" width="3" height="15" fill="#00ff00"/>
<rect x="340" y="667" width="3" height="10" fill="#00ff00"/>
<rect x="356" y="673" width="3" height="4" fill="#00ff00"/>
<rect x="372" y="677" width="3" height="1" fill="#00ff00"/>
<rect x="388" y="677" width="3" height="4" fill="#00ff00"/>
<rect x="404" y="677" width="3" height="6" fill="#00ff00"/>
<rect x="420" y="677" width="3" height="9" fill="#00ff00"/>
<rect x="436" y="677" width="3" height="10" fill="#00ff00"/>
<rect x="452" y="677" width="3" height="11" fill="#00ff00"/>
<rect x="468" y="677" width="3" height="12" fill="#00ff00"/>
<rect x="484" y="677" width="3" height="12" fill="#00ff00"/>
<rect x="500" y="677" width="3" height="10" fill="#00ff00"/>
<rect x="516" y="677" width="3" height="17" fill="#00ff00"/>
<rect x="532" y="677" width="3" height="25" fill="#00ff00"/>
<rect x="548" y="677" width="3" height="33" fill="#00ff00"/>
<rect x="564" y="677" width="3" height="39" fill="#00ff00"/>
<rect x="580" y="677" width="3" height="41" fill="#00ff00"/>
<rect x="596" y="677" width="3" height="42" fill="#00ff00"/>
<rect x="612" y="677" width="3" height="47" fill="#00ff00"/>
<rect x="628" y="677" width="3" height="52" fill="#00ff00"/>
<rect x="644" y="677" width="3" height="50" fill="#00ff00"/>
<rect x="660" y="677" width="3" height="45" fill="#00ff00"/>
<rect x="676" y="677" width="3" height="43" fill="#00ff00"/>
<rect x="692" y="677" width="3" height="46" fill="#00ff00"/>
<rect x="708" y="677" width="3" height="44" fill="#00ff00"/>
<rect x="724" y="677" width="3" height="48" fill="#00ff00"/>
<rect x="740" y="677" width="3" height="50" fill="#00ff00"/>
<rect x="756" y="677" width="3" height="48" fill="#00ff00"/>
<rect x="772" y="677" width="3" height="48" fill="#00ff00"/>
<rect x="788" y="677" width="3" height="45" fill="#00ff00"/>
<rect x="804" y="677" width="3" height="37" fill="#00ff00"/>
<rect x="820" y="677" width="3" height="31" fill="#00ff00"/>
<rect x="836" y="677" width="3" height="26" fill="#00ff00"/>
<rect x="852" y="677" width="3" height="21" fill="#00ff00"/>
<rect x="868" y="677" width="3" height="18" fill="#00ff00"/>
<rect x="884" y="677" width="3" height="23" fill="#00ff00"/>
<rect x="900" y="677" width="3" height="26" fill="#00ff00"/>
<rect x="916" y="677" width="3" height="24" fill="#00ff00"/>
<rect x="932" y="677" width="3" height="19" fill="#00ff00"/>
<rect x="948" y="677" width="3" height="13" fill="#00ff00"/>
<rect x="964" y="677" width="3" height="8" fill="#00ff00"/>
<rect x="980" y="677" width="3" height="6" fill="#00ff00"/>
<rect x="996" y="675" width="3" height="2" fill="#00ff00"/>
<rect x="1012" y="666" width="3" height="11" fill="#00ff00"/>
<rect x="1028" y="659" width="3" height="18" fill="#00ff00"/>
<rect x="1044" y="653" width="3" height="24" fill="#00ff00"/>
<rect x="1060" y="650" width="3" height="27" fill="#00ff00"/>
<rect x="1076" y="647" width="3" height="30" fill="#00ff00"/>
<rect x="1092" y="653" width="3" height="24" fill="#00ff00"/>
<rect x="1108" y="656" width="3" height="21" fill="#00ff00"/>
<rect x="1124" y="656" width="3" height="21" fill="#00ff00"/>
<rect x="1140" y="658" width="3" height="19" fill="#00ff00"/>
<rect x="1156" y="664" width="3" height="13" fill="#00ff00"/>
<rect x="1172" y="666" width="3" height="11" fill="#00ff00"/>
<rect x="1188" y="664" width="3" height="13" fill="#00ff00"/>
<rect x="1204" y="662" width="3" height="15" fill="#00ff00"/>
<rect x="1220" y="660" width="3" height="17" fill="#00ff00"/>
<rect x="1236" y="658" width="3" height="19" fill="#00ff00"/>
<rect x="1252" y="656" width="3" height="21" fill="#00ff00"/>
<rect x="1268" y="652" width="3" height="25" fill="#00ff00"/>
<rect x="1284" y="650" width="3" height="27" fill="#00ff00"/>
<rect x="1300" y="646" width="3" height="31" fill="#00ff00"/>
<rect x="1316" y="642" width="3" height="35" fill="#00ff00"/>
<rect x="1332" y="640" width="3" height="37" fill="#00ff00"/>
</g>
<polyline points="5,698.3 21,698.3 37,698.3 53,698.3 69,697.9 85,696.6 101,694.4 117,690.5 133,685.9 149,681.3 165,677.5 181,672.4 197,667.3 213,662.2 229,658.0 245,654.3 261,651.2 277,649.2 293,648.2 309,647.8 325,648.9 341,650.9 357,654.3 373,657.2 389,661.0 405,665.1 421,669.8 437,674.1 453,678.3 469,681.3 485,683.4 501,684.2 517,685.9 533,689.0 549,692.3 565,694.9 581,697.8 597,702.0 613,706.2 629,710.4 645,715.2 661,718.1 677,719.8 693,720.9 709,721.4 725,722.3 741,722.6 757,722.6 773,722.6 789,722.3 805,720.9 821,720.3 837,718.4 853,715.9 869,713.2 885,710.5 901,707.4 917,704.5 933,701.7 949,698.6 965,696.1 981,694.5 997,691.8 1013,688.8 1029,684.7 1045,678.3 1061,674.1 1077,667.3 1093,663.1 1109,660.9 1125,657.2 1141,656.3 1157,655.8 1173,656.3 1189,657.2 1205,659.4 1221,659.9 1237,659.9 1253,659.9 1269,659.9 1285,659.2 1301,657.5 1317,654.6 1333,652.9" fill="none" stroke="#ff0000" stroke-width="2" stroke-linejoin="round" shape-rendering="crispEdges"/>
</g>
<clipPath id="crsi"><rect x="5" y="736" width="1597" height="75"/></clipPath>
<g clip-path="url(#crsi)">
<polyline points="5,779.8 21,774.4 37,774.0 53,773.0 69,774.0 85,768.5 101,765.8 117,760.7 133,760.2 149,761.3 165,760.0 181,761.7 197,763.7 213,760.0 229,764.8 245,764.8 261,764.8 277,764.8 293,764.8 309,776.0 325,780.8 341,779.8 357,779.8 373,779.8 389,778.7 405,779.1 421,780.8 437,777.9 453,777.9 469,777.9 485,777.9 501,773.6 517,786.3 533,789.4 549,790.8 565,790.4 581,784.9 597,784.9 613,789.8 629,791.0 645,780.8 661,777.9 677,778.1 693,784.9 709,780.8 725,783.9 741,783.7 757,780.8 773,780.6 789,779.5 805,773.0 821,773.0 837,773.0 853,773.0 869,773.0 885,781.8 901,781.6 917,775.0 933,772.0 949,769.9 965,769.9 981,773.0 997,765.7 1013,763.9 1029,763.7 1045,763.7 1061,763.9 1077,766.0 1093,772.9 1109,772.9 1125,769.9 1141,772.0 1157,776.8 1173,773.5 1189,769.9 1205,768.6 1221,768.2 1237,768.2 1253,767.1 1269,764.5 1285,766.0 1301,762.4 1317,761.7 1333,761.7" fill="none" stroke="#1e90ff" stroke-width="2" stroke-linejoin="round" shape-rendering="crispEdges"/>
<g shape-rendering="crispEdges">
<line x1="6" y1="751.5" x2="1602" y2="751.5" stroke="#000" stroke-width="1" stroke-dasharray="3,3"/>
<line x1="6" y1="773.5" x2="1602" y2="773.5" stroke="#000" stroke-width="1" stroke-dasharray="3,3"/>
<line x1="6" y1="799.5" x2="1602" y2="799.5" stroke="#000" stroke-width="1" stroke-dasharray="3,3"/>
</g>
</g>
<g shape-rendering="crispEdges">
<rect x="1603" y="35" width="2" height="1" fill="#000"/>
<rect x="1603" y="68" width="2" height="1" fill="#000"/>
<rect x="1603" y="101" width="2" height="1" fill="#000"/>
<rect x="1603" y="134" width="2" height="1" fill="#000"/>
<rect x="1603" y="167" width="2" height="1" fill="#000"/>
<rect x="1603" y="200" width="2" height="1" fill="#000"/>
<rect x="1603" y="233" width="2" height="1" fill="#000"/>
<rect x="1603" y="266" width="2" height="1" fill="#000"/>
<rect x="1603" y="299" width="2" height="1" fill="#000"/>
<rect x="1603" y="332" width="2" height="1" fill="#000"/>
<rect x="1603" y="365" width="2" height="1" fill="#000"/>
<rect x="1603" y="398" width="2" height="1" fill="#000"/>
<rect x="1603" y="431" width="2" height="1" fill="#000"/>
<rect x="1603" y="464" width="2" height="1" fill="#000"/>
<rect x="1603" y="497" width="2" height="1" fill="#000"/>
<rect x="1603" y="530" width="2" height="1" fill="#000"/>
<rect x="1603" y="563" width="2" height="1" fill="#000"/>
<rect x="1603" y="596" width="2" height="1" fill="#000"/>
<rect x="1603" y="629" width="2" height="1" fill="#000"/>
<rect x="1603" y="636" width="1" height="1" fill="#000"/>
<rect x="1603" y="677" width="1" height="1" fill="#000"/>
<rect x="1603" y="732" width="1" height="1" fill="#000"/>
<rect x="1603" y="737" width="1" height="1" fill="#000"/>
<rect x="1603" y="810" width="1" height="1" fill="#000"/>
<rect x="5" y="812" width="1" height="3" fill="#000"/>
<rect x="69" y="812" width="1" height="3" fill="#000"/>
<rect x="133" y="812" width="1" height="3" fill="#000"/>
<rect x="197" y="812" width="1" height="3" fill="#000"/>
<rect x="261" y="812" width="1" height="3" fill="#000"/>
<rect x="325" y="812" width="1" height="3" fill="#000"/>
<rect x="389" y="812" width="1" height="3" fill="#000"/>
<rect x="453" y="812" width="1" height="3" fill="#000"/>
<rect x="517" y="812" width="1" height="3" fill="#000"/>
<rect x="581" y="812" width="1" height="3" fill="#000"/>
<rect x="645" y="812" width="1" height="3" fill="#000"/>
<rect x="709" y="812" width="1" height="3" fill="#000"/>
<rect x="773" y="812" width="1" height="3" fill="#000"/>
<rect x="837" y="812" width="1" height="3" fill="#000"/>
<rect x="901" y="812" width="1" height="3" fill="#000"/>
<rect x="965" y="812" width="1" height="3" fill="#000"/>
<rect x="1029" y="812" width="1" height="3" fill="#000"/>
<rect x="1093" y="812" width="1" height="3" fill="#000"/>
<rect x="1157" y="812" width="1" height="3" fill="#000"/>
<rect x="1221" y="812" width="1" height="3" fill="#000"/>
<rect x="1285" y="812" width="1" height="3" fill="#000"/>
</g>
<g font-family="'DejaVu Sans', 'Liberation Sans', sans-serif" font-size="9.3" fill="#000">
<text x="1608" y="39" textLength="37.5" lengthAdjust="spacingAndGlyphs">4095.345</text>
<text x="1608" y="72" textLength="37.5" lengthAdjust="spacingAndGlyphs">4078.855</text>
<text x="1608" y="105" textLength="37.5" lengthAdjust="spacingAndGlyphs">4062.850</text>
<text x="1608" y="138" textLength="37.5" lengthAdjust="spacingAndGlyphs">4046.360</text>
<text x="1608" y="270" textLength="37.5" lengthAdjust="spacingAndGlyphs">3981.370</text>
<text x="1608" y="303" textLength="37.5" lengthAdjust="spacingAndGlyphs">3965.365</text>
<text x="1608" y="336" textLength="37.5" lengthAdjust="spacingAndGlyphs">3949.360</text>
<text x="1608" y="369" textLength="37.5" lengthAdjust="spacingAndGlyphs">3932.870</text>
<text x="1608" y="402" textLength="37.5" lengthAdjust="spacingAndGlyphs">3916.865</text>
<text x="1608" y="435" textLength="37.5" lengthAdjust="spacingAndGlyphs">3900.375</text>
<text x="1608" y="468" textLength="37.5" lengthAdjust="spacingAndGlyphs">3884.370</text>
<text x="1608" y="501" textLength="37.5" lengthAdjust="spacingAndGlyphs">3867.880</text>
<text x="1608" y="534" textLength="37.5" lengthAdjust="spacingAndGlyphs">3851.875</text>
<text x="1608" y="567" textLength="37.5" lengthAdjust="spacingAndGlyphs">3835.385</text>
<text x="1608" y="600" textLength="37.5" lengthAdjust="spacingAndGlyphs">3819.380</text>
<text x="1608" y="633" textLength="37.5" lengthAdjust="spacingAndGlyphs">3803.375</text>
<rect x="1604" y="79" width="46" height="11" fill="#ff0000" shape-rendering="crispEdges"/>
<text x="1608" y="88" fill="#fff" textLength="37.5" lengthAdjust="spacingAndGlyphs">4070.371</text>
<rect x="1604" y="111" width="46" height="11" fill="#ff0000" shape-rendering="crispEdges"/>
<text x="1608" y="120" fill="#fff" textLength="37.5" lengthAdjust="spacingAndGlyphs">4054.666</text>
<rect x="1604" y="145" width="46" height="11" fill="#000000" shape-rendering="crispEdges"/>
<text x="1608" y="154" fill="#fff" textLength="37.5" lengthAdjust="spacingAndGlyphs">4038.750</text>
<rect x="1604" y="162" width="46" height="11" fill="#ff8c00" shape-rendering="crispEdges"/>
<text x="1608" y="171" fill="#fff" textLength="37.5" lengthAdjust="spacingAndGlyphs">4029.637</text>
<rect x="1604" y="197" width="46" height="11" fill="#0000ff" shape-rendering="crispEdges"/>
<text x="1608" y="206" fill="#fff" textLength="37.5" lengthAdjust="spacingAndGlyphs">4012.460</text>
<rect x="1604" y="228" width="46" height="11" fill="#0000ff" shape-rendering="crispEdges"/>
<text x="1608" y="237" fill="#fff" textLength="37.5" lengthAdjust="spacingAndGlyphs">3997.246</text>
<text x="1606" y="645" textLength="33.3" lengthAdjust="spacingAndGlyphs">27.5726</text>
<text x="1606" y="681" textLength="18.3" lengthAdjust="spacingAndGlyphs">0.00</text>
<text x="1606" y="730" textLength="36.3" lengthAdjust="spacingAndGlyphs">-36.3505</text>
<text x="1606" y="746" textLength="15" lengthAdjust="spacingAndGlyphs">100</text>
<text x="1605" y="755" textLength="10" lengthAdjust="spacingAndGlyphs">80</text>
<text x="1605" y="777" textLength="10" lengthAdjust="spacingAndGlyphs">50</text>
<text x="1605" y="803" textLength="10" lengthAdjust="spacingAndGlyphs">15</text>
<text x="1606" y="808" textLength="5" lengthAdjust="spacingAndGlyphs">0</text>
<polygon points="8,39.5 15,39.5 11.5,44" fill="#000"/>
<text x="20" y="45" textLength="45" lengthAdjust="spacingAndGlyphs">SP500-,H4</text>
<text x="71" y="45" textLength="37.5" lengthAdjust="spacingAndGlyphs">4038.750</text>
<text x="112.2" y="45" textLength="37.5" lengthAdjust="spacingAndGlyphs">4038.750</text>
<text x="153.3" y="45" textLength="37.5" lengthAdjust="spacingAndGlyphs">4038.750</text>
<text x="194.3" y="45" textLength="37.5" lengthAdjust="spacingAndGlyphs">4038.750</text>
<text x="9" y="647" textLength="138.5" lengthAdjust="spacingAndGlyphs">MACD(12,26,9) 24.6670 16.8835</text>
<text x="9" y="748" textLength="68.5" lengthAdjust="spacingAndGlyphs">RSI(14) 65.1177</text>
<text x="4.4" y="824" textLength="47" lengthAdjust="spacingAndGlyphs">2 Mar 2023</text>
<text x="68.4" y="824" textLength="50.4" lengthAdjust="spacingAndGlyphs">3 Mar 04:00</text>
<text x="132.4" y="824" textLength="50.4" lengthAdjust="spacingAndGlyphs">3 Mar 20:00</text>
<text x="196.4" y="824" textLength="50.4" lengthAdjust="spacingAndGlyphs">6 Mar 08:00</text>
<text x="260.4" y="824" textLength="50.4" lengthAdjust="spacingAndGlyphs">7 Mar 00:00</text>
<text x="324.4" y="824" textLength="50.4" lengthAdjust="spacingAndGlyphs">7 Mar 16:00</text>
<text x="388.4" y="824" textLength="50.4" lengthAdjust="spacingAndGlyphs">8 Mar 08:00</text>
<text x="452.4" y="824" textLength="50.4" lengthAdjust="spacingAndGlyphs">9 Mar 00:00</text>
<text x="516.4" y="824" textLength="50.4" lengthAdjust="spacingAndGlyphs">9 Mar 16:00</text>
<text x="579.7" y="824" textLength="55.2" lengthAdjust="spacingAndGlyphs">10 Mar 08:00</text>
<text x="643.7" y="824" textLength="55.2" lengthAdjust="spacingAndGlyphs">12 Mar 23:00</text>
<text x="707.7" y="824" textLength="55.2" lengthAdjust="spacingAndGlyphs">13 Mar 12:00</text>
<text x="771.7" y="824" textLength="55.2" lengthAdjust="spacingAndGlyphs">14 Mar 04:00</text>
<text x="835.7" y="824" textLength="55.2" lengthAdjust="spacingAndGlyphs">14 Mar 20:00</text>
<text x="899.7" y="824" textLength="55.2" lengthAdjust="spacingAndGlyphs">15 Mar 12:00</text>
<text x="963.7" y="824" textLength="55.2" lengthAdjust="spacingAndGlyphs">16 Mar 04:00</text>
<text x="1027.7" y="824" textLength="55.2" lengthAdjust="spacingAndGlyphs">16 Mar 20:00</text>
<text x="1091.7" y="824" textLength="55.2" lengthAdjust="spacingAndGlyphs">17 Mar 12:00</text>
<text x="1155.7" y="824" textLength="55.2" lengthAdjust="spacingAndGlyphs">20 Mar 04:00</text>
<text x="1219.7" y="824" textLength="55.2" lengthAdjust="spacingAndGlyphs">20 Mar 20:00</text>
<text x="1283.7" y="824" textLength="55.2" lengthAdjust="spacingAndGlyphs">21 Mar 12:00</text>
</g>
</svg>
</body></html>
